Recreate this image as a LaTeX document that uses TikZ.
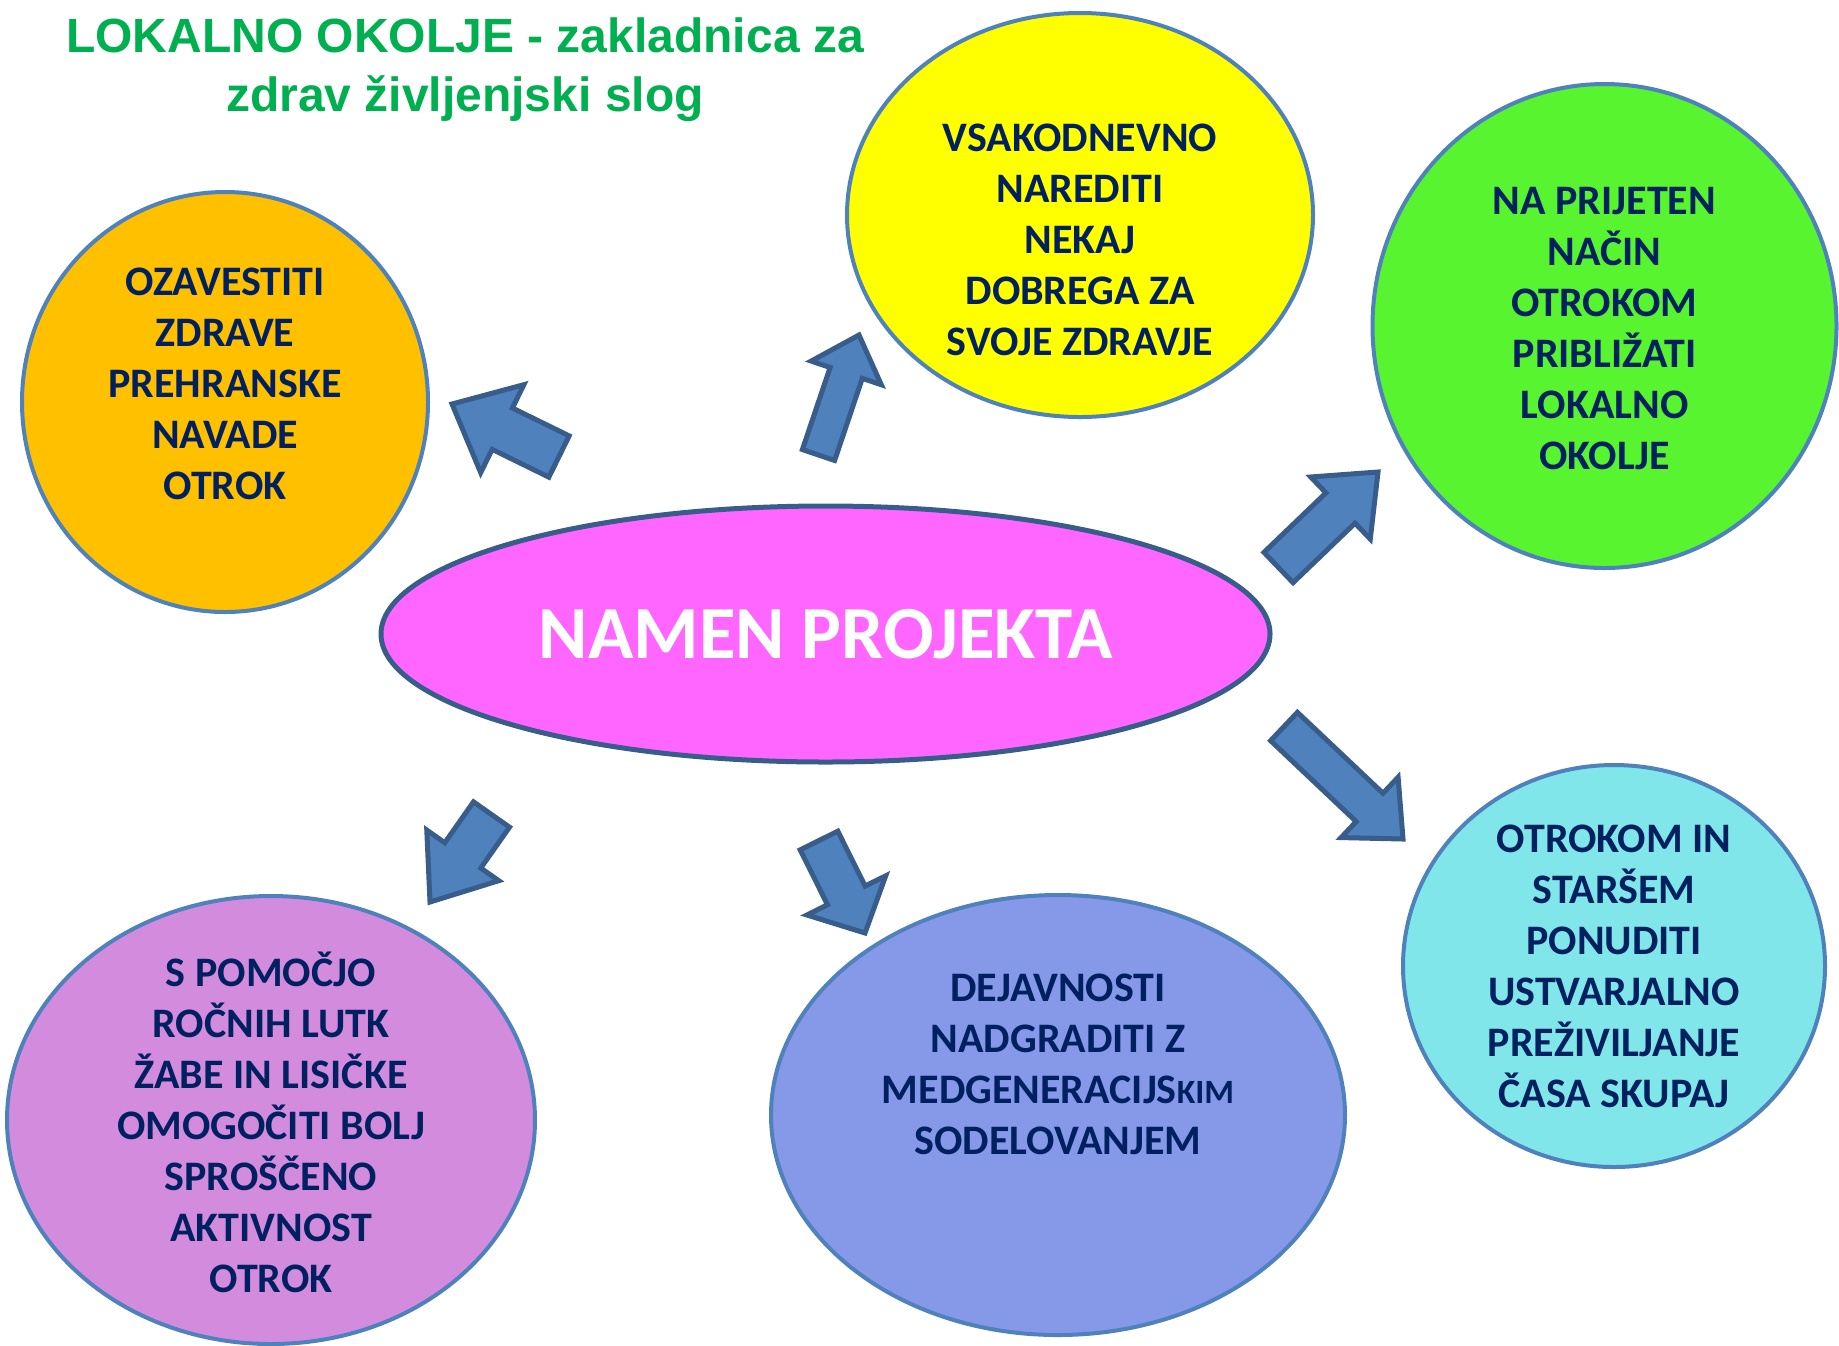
\documentclass[tikz,border=0pt]{standalone}
\usepackage{fontspec}
\newfontfamily\calibri{Carlito}
\newfontfamily\arial{Liberation Sans}
\usetikzlibrary{shapes.geometric,calc,positioning}
\definecolor{titlegreen}{HTML}{00B050}
\definecolor{navy}{HTML}{002060}
\definecolor{rimblue}{HTML}{4F81BD}
\definecolor{arrowfill}{HTML}{4F81BD}
\definecolor{arrowrim}{HTML}{385D8A}
\definecolor{namenpink}{HTML}{FF66FF}
\definecolor{navadeorange}{HTML}{FFC000}
\definecolor{zdravjeyellow}{HTML}{FFFF00}
\definecolor{okoljegreen}{HTML}{57F42F}
\definecolor{lutkepurple}{HTML}{D38CDD}
\definecolor{generacijeblue}{HTML}{8698E8}
\definecolor{druzinacyan}{HTML}{80E6E9}
\tikzstyle{bubble} = [draw=rimblue, ellipse, line width=2pt, inner sep=0pt]
\tikzstyle{navytext} = [align=center, text=navy, font={\calibri\bfseries\fontsize{21pt}{25.5pt}\selectfont}]
\tikzstyle{arrowbody} = [fill=arrowfill, draw=arrowrim, line width=2.5pt, line join=miter]
% block arrow: tail, tip, half shaft, half head, head length
\newcommand{\blockarrow}[5]{%
\coordinate (#2Base) at ($(#2)!#5!(#1)$);
\draw [arrowbody] ($(#1)!#3!90:(#2)$) -- ($(#2Base)!#3!90:(#2)$) -- ($(#2Base)!#4!90:(#2)$) -- (#2)
  -- ($(#2Base)!#4!-90:(#2)$) -- ($(#2Base)!#3!-90:(#2)$) -- ($(#1)!#3!-90:(#2)$) -- cycle;
}

\begin{document}
\begin{tikzpicture}[x=0.5pt, y=-0.5pt]
\useasboundingbox (0,0) rectangle (1839,1345);

\node [align=center, text=titlegreen, font={\arial\bfseries\fontsize{24pt}{29.5pt}\selectfont}] (title) at (465,70) {LOKALNO OKOLJE - zakladnica za\\zdrav življenjski slog};

\node [bubble, fill=namenpink, draw=arrowrim, line width=2.5pt, minimum width=444.5pt, minimum height=128pt] (namen) at (825.5,634) {};
\node [text=white, font={\calibri\bfseries\fontsize{37.5pt}{40pt}\selectfont}] (namenText) at (namen) {NAMEN PROJEKTA};

\node [bubble, fill=navadeorange, minimum width=203pt, minimum height=210pt] (navade) at (225,402) {};
\node [navytext, yshift=9pt] (navadeText) at (navade) {OZAVESTITI\\ZDRAVE\\PREHRANSKE\\NAVADE\\OTROK};

\node [bubble, fill=zdravjeyellow, minimum width=233pt, minimum height=202pt] (zdravje) at (1080,215) {};
\node [navytext, yshift=-12.5pt] (zdravjeText) at (zdravje) {VSAKODNEVNO\\NAREDITI\\NEKAJ\\DOBREGA ZA\\SVOJE ZDRAVJE};

\node [bubble, fill=okoljegreen, minimum width=232pt, minimum height=242pt] (okolje) at (1604.5,326) {};
\node [navytext, yshift=-1.5pt] (okoljeText) at (okolje) {NA PRIJETEN\\NAČIN\\OTROKOM\\PRIBLIŽATI\\LOKALNO\\OKOLJE};

\node [bubble, fill=druzinacyan, minimum width=211pt, minimum height=201pt] (druzina) at (1614,966) {};
\node [navytext] (druzinaText) at (druzina) {OTROKOM IN\\STARŠEM\\PONUDITI\\USTVARJALNO\\PREŽIVILJANJE\\ČASA SKUPAJ};

\node [bubble, fill=generacijeblue, minimum width=287pt, minimum height=220pt] (generacije) at (1058,1115) {};
\node [navytext, yshift=25.5pt] (generacijeText) at (generacije) {DEJAVNOSTI\\NADGRADITI Z\\MEDGENERACIJS{\fontsize{17pt}{25.5pt}\selectfont KIM}\\SODELOVANJEM};

\node [bubble, fill=lutkepurple, minimum width=264pt, minimum height=224pt] (lutke) at (271,1120) {};
\node [navytext, yshift=-1.25pt] (lutkeText) at (lutke) {S POMOČJO\\ROČNIH LUTK\\ŽABE IN LISIČKE\\OMOGOČITI BOLJ\\SPROŠČENO\\AKTIVNOST\\OTROK};

\coordinate (tailNavade) at (559,456.5);
\coordinate (tipNavade) at (452,404);
\coordinate (tailZdravje) at (818.5,455);
\coordinate (tipZdravje) at (859,335);
\coordinate (tailOkolje) at (1278.5,567.5);
\coordinate (tipOkolje) at (1378,472);
\coordinate (tailDruzina) at (1284,726.5);
\coordinate (tipDruzina) at (1403,839);
\coordinate (tailGeneracije) at (819,840.5);
\coordinate (tipGeneracije) at (865,933);
\coordinate (tailLutke) at (491.5,814.5);
\coordinate (tipLutke) at (430,902);

\blockarrow{tailNavade}{tipNavade}{11.5pt}{24.5pt}{28pt}
\blockarrow{tailZdravje}{tipZdravje}{8.5pt}{18.5pt}{20pt}
\blockarrow{tailOkolje}{tipOkolje}{10.5pt}{21.5pt}{26pt}
\blockarrow{tailDruzina}{tipDruzina}{9.75pt}{20.75pt}{23pt}
\blockarrow{tailGeneracije}{tipGeneracije}{10.5pt}{22pt}{21pt}
\blockarrow{tailLutke}{tipLutke}{11pt}{22pt}{28.5pt}

\end{tikzpicture}
\end{document}
